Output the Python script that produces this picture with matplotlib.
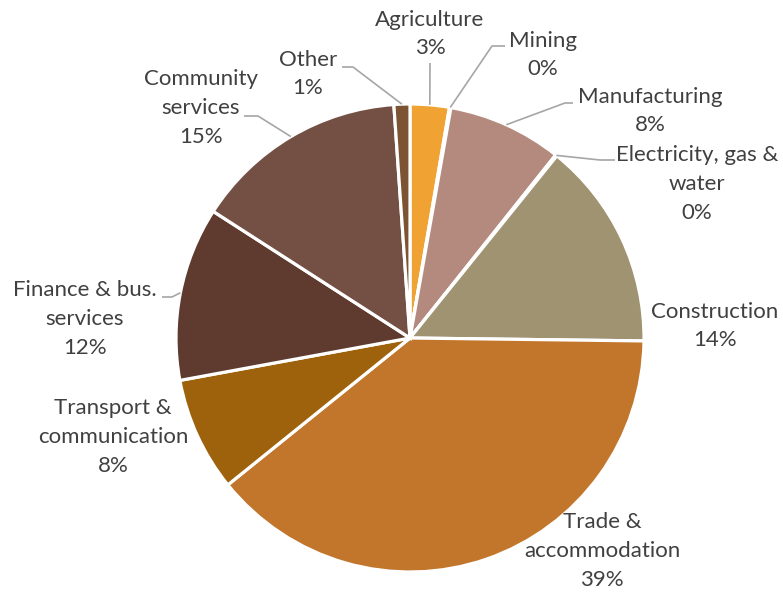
import numpy as np
import matplotlib
matplotlib.use("Agg")
import matplotlib.pyplot as plt

# === Данные ===
sectors = ["Agriculture", "Mining", "Manufacturing", "Electricity, gas &\nwater",
           "Construction", "Trade &\naccommodation", "Transport &\ncommunication",
           "Finance & bus.\nservices", "Community\nservices", "Other"]
shares = [2.7, 0.1, 7.9, 0.1, 14.4, 39.0, 7.9, 12.0, 14.8, 1.1]
colors = ["#F0A232", "#B9A59A", "#B58A7E", "#A89C80", "#A09372",
          "#C2762B", "#9E620D", "#5F3A2F", "#744F44", "#7C5433"]

# === Разметка (пиксели) ===
W, H = 783, 592
cx, cy, R = 410, 338, 234
# центр подписи для каждого сектора
label_xy = [(430, 34), (543, 55), (650, 111), (697, 184), (715, 326),
            (602, 551), (113, 437), (85, 319), (201, 108), (308, 74)]
# точки излома выносок (None = без выноски)
elbows = [[(430, 63)], [(492, 46), (505, 46)], [(565, 103), (573, 103)],
          [(600, 160), (615, 160)], None, None, None,
          [(172, 297), (162, 297)], [(258, 116), (244, 116)],
          [(353, 67), (342, 67)]]

plt.rcParams['font.family'] = ['Lato', 'DejaVu Sans']
fig = plt.figure(figsize=(W / 100, H / 100), dpi=100)
ax = fig.add_axes([0, 0, 1, 1])

ax.pie(shares, colors=colors, startangle=90, counterclock=False,
       center=(cx, H - cy), radius=R,
       wedgeprops=dict(edgecolor="white", linewidth=2.3))
ax.set_xlim(0, W)
ax.set_ylim(0, H)
ax.set_aspect("equal")
ax.axis("off")

# выноски и подписи
total = sum(shares)
start = 0.0
for name, v, (lx, ly), el in zip(sectors, shares, label_xy, elbows):
    mid = np.deg2rad((start + v / 2) / total * 360)
    start += v
    if el:
        px = cx + R * np.sin(mid)
        py = cy - R * np.cos(mid)
        pts = [(px, py)] + el
        ax.plot([p[0] for p in pts], [H - p[1] for p in pts],
                color="#A6A6A6", lw=1.2, solid_capstyle="butt")
    ax.text(lx, H - ly, f"{name}\n{round(v)}%", ha="center", va="center",
            fontsize=16, color="#404040", linespacing=1.55)

fig.savefig("out.png", dpi=100)
